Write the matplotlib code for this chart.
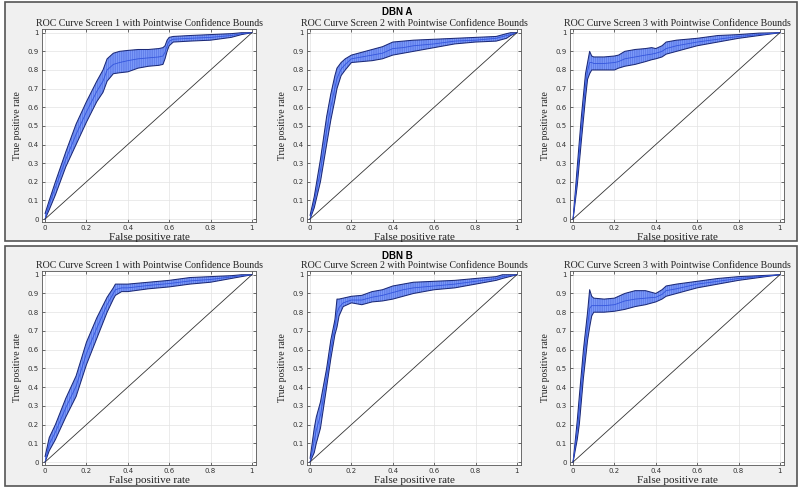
import matplotlib
matplotlib.use("Agg")
import matplotlib.pyplot as plt
from matplotlib.patches import Rectangle

# ---------------- data ----------------
fpr_a1 = [0, 0.02, 0.05, 0.1, 0.15, 0.2, 0.25, 0.28, 0.3, 0.33, 0.36, 0.4, 0.45, 0.5, 0.55, 0.57, 0.58, 0.59, 0.6, 0.62, 0.7, 0.8, 0.9, 0.95, 1.0]
hi_a1 = [0.03, 0.10, 0.20, 0.36, 0.51, 0.63, 0.74, 0.80, 0.86, 0.89, 0.90, 0.905, 0.91, 0.91, 0.915, 0.92, 0.93, 0.96, 0.975, 0.98, 0.985, 0.99, 0.995, 1.0, 1.0]
lo_a1 = [0.0, 0.05, 0.13, 0.28, 0.40, 0.52, 0.63, 0.68, 0.74, 0.78, 0.785, 0.79, 0.81, 0.82, 0.825, 0.83, 0.86, 0.90, 0.93, 0.95, 0.955, 0.96, 0.975, 0.99, 1.0]
tpr_a1 = [0.0, 0.08, 0.17, 0.32, 0.455, 0.575, 0.685, 0.74, 0.80, 0.83, 0.84, 0.85, 0.86, 0.865, 0.87, 0.875, 0.895, 0.93, 0.955, 0.965, 0.97, 0.975, 0.985, 0.995, 1.0]

fpr_a2 = [0, 0.02, 0.05, 0.08, 0.1, 0.12, 0.13, 0.15, 0.17, 0.2, 0.25, 0.3, 0.35, 0.4, 0.45, 0.5, 0.6, 0.7, 0.8, 0.9, 0.95, 0.97, 1.0]
hi_a2 = [0.02, 0.12, 0.32, 0.55, 0.67, 0.77, 0.81, 0.84, 0.86, 0.88, 0.895, 0.91, 0.925, 0.95, 0.955, 0.96, 0.965, 0.97, 0.975, 0.98, 0.995, 1.0, 1.0]
lo_a2 = [0.0, 0.06, 0.20, 0.40, 0.53, 0.64, 0.70, 0.77, 0.80, 0.84, 0.845, 0.85, 0.86, 0.88, 0.89, 0.90, 0.92, 0.94, 0.95, 0.955, 0.97, 0.985, 1.0]
tpr_a2 = [0.0, 0.09, 0.26, 0.475, 0.60, 0.705, 0.755, 0.805, 0.83, 0.86, 0.87, 0.88, 0.89, 0.915, 0.92, 0.93, 0.94, 0.955, 0.96, 0.97, 0.985, 0.99, 1.0]

fpr_a3 = [0, 0.02, 0.04, 0.06, 0.07, 0.08, 0.09, 0.1, 0.15, 0.2, 0.22, 0.25, 0.3, 0.35, 0.38, 0.4, 0.43, 0.45, 0.5, 0.6, 0.7, 0.8, 0.9, 1.0]
hi_a3 = [0.0, 0.28, 0.55, 0.78, 0.84, 0.90, 0.875, 0.87, 0.87, 0.875, 0.88, 0.90, 0.91, 0.915, 0.92, 0.915, 0.93, 0.95, 0.96, 0.97, 0.985, 0.99, 0.998, 1.0]
lo_a3 = [0.0, 0.18, 0.42, 0.65, 0.75, 0.78, 0.80, 0.80, 0.80, 0.80, 0.81, 0.82, 0.83, 0.845, 0.855, 0.86, 0.87, 0.885, 0.90, 0.93, 0.95, 0.97, 0.985, 1.0]
tpr_a3 = [0.0, 0.23, 0.485, 0.715, 0.795, 0.84, 0.84, 0.835, 0.835, 0.84, 0.845, 0.86, 0.87, 0.88, 0.885, 0.89, 0.9, 0.915, 0.93, 0.95, 0.965, 0.98, 0.99, 1.0]

fpr_b1 = [0, 0.02, 0.05, 0.1, 0.15, 0.2, 0.25, 0.3, 0.33, 0.34, 0.37, 0.4, 0.5, 0.6, 0.7, 0.8, 0.9, 0.95, 1.0]
hi_b1 = [0.03, 0.13, 0.20, 0.34, 0.46, 0.64, 0.77, 0.88, 0.93, 0.95, 0.95, 0.95, 0.96, 0.97, 0.985, 0.99, 0.995, 1.0, 1.0]
lo_b1 = [0.0, 0.06, 0.12, 0.24, 0.35, 0.52, 0.66, 0.80, 0.87, 0.89, 0.91, 0.91, 0.925, 0.935, 0.95, 0.96, 0.98, 0.99, 1.0]
tpr_b1 = [0.0, 0.095, 0.16, 0.29, 0.405, 0.58, 0.715, 0.84, 0.90, 0.92, 0.93, 0.93, 0.943, 0.953, 0.967, 0.975, 0.988, 0.995, 1.0]

fpr_b2 = [0, 0.02, 0.03, 0.05, 0.08, 0.1, 0.12, 0.13, 0.14, 0.16, 0.2, 0.25, 0.3, 0.35, 0.4, 0.45, 0.5, 0.6, 0.7, 0.8, 0.9, 0.93, 1.0]
hi_b2 = [0.02, 0.18, 0.24, 0.32, 0.50, 0.65, 0.76, 0.87, 0.87, 0.875, 0.885, 0.89, 0.91, 0.92, 0.94, 0.95, 0.96, 0.965, 0.97, 0.98, 0.99, 1.0, 1.0]
lo_b2 = [0.0, 0.05, 0.10, 0.18, 0.40, 0.55, 0.68, 0.72, 0.78, 0.83, 0.85, 0.84, 0.855, 0.86, 0.87, 0.885, 0.90, 0.92, 0.93, 0.95, 0.97, 0.98, 1.0]
tpr_b2 = [0.0, 0.115, 0.17, 0.25, 0.45, 0.60, 0.72, 0.795, 0.825, 0.85, 0.865, 0.865, 0.88, 0.89, 0.905, 0.92, 0.93, 0.94, 0.95, 0.965, 0.98, 0.99, 1.0]

fpr_b3 = [0, 0.02, 0.03, 0.05, 0.07, 0.08, 0.09, 0.1, 0.15, 0.2, 0.25, 0.3, 0.35, 0.4, 0.43, 0.45, 0.5, 0.6, 0.7, 0.8, 0.9, 1.0]
hi_b3 = [0.0, 0.22, 0.35, 0.60, 0.80, 0.92, 0.885, 0.875, 0.87, 0.875, 0.90, 0.915, 0.915, 0.90, 0.92, 0.94, 0.95, 0.965, 0.98, 0.99, 0.995, 1.0]
lo_b3 = [0.0, 0.12, 0.20, 0.45, 0.65, 0.72, 0.78, 0.80, 0.80, 0.805, 0.815, 0.83, 0.84, 0.855, 0.87, 0.885, 0.90, 0.93, 0.95, 0.97, 0.985, 1.0]
tpr_b3 = [0.0, 0.17, 0.275, 0.525, 0.725, 0.82, 0.835, 0.835, 0.835, 0.84, 0.86, 0.87, 0.875, 0.88, 0.895, 0.915, 0.925, 0.95, 0.965, 0.98, 0.99, 1.0]

panel_titles = ["DBN A", "DBN B"]
screen_titles = ["ROC Curve Screen 1 with Pointwise Confidence Bounds",
                 "ROC Curve Screen 2 with Pointwise Confidence Bounds",
                 "ROC Curve Screen 3 with Pointwise Confidence Bounds"]
x_ticks = [0, 0.2, 0.4, 0.6, 0.8, 1]
x_ticklabels = ["0", "0.2", "0.4", "0.6", "0.8", "1"]
y_ticks = [0, 0.1, 0.2, 0.3, 0.4, 0.5, 0.6, 0.7, 0.8, 0.9, 1]
y_ticklabels = ["0", "0.1", "0.2", "0.3", "0.4", "0.5", "0.6", "0.7", "0.8", "0.9", "1"]
xlabel = "False positive rate"
ylabel = "True positive rate"

curves = [
    [(fpr_a1, tpr_a1, lo_a1, hi_a1), (fpr_a2, tpr_a2, lo_a2, hi_a2), (fpr_a3, tpr_a3, lo_a3, hi_a3)],
    [(fpr_b1, tpr_b1, lo_b1, hi_b1), (fpr_b2, tpr_b2, lo_b2, hi_b2), (fpr_b3, tpr_b3, lo_b3, hi_b3)],
]

# ---------------- figure ----------------
W, H = 800, 492
fig = plt.figure(figsize=(W / 100, H / 100), dpi=100)
fig.patch.set_facecolor("white")
plt.rcParams["hatch.linewidth"] = 0.35

SERIF = ["Liberation Serif", "DejaVu Serif"]

def px_rect(x0, y0, x1, y1):
    return [x0 / W, 1 - y1 / H, (x1 - x0) / W, (y1 - y0) / H]

# panel frames
for (y0, y1) in [(2, 241), (246, 486)]:
    r = px_rect(5, y0, 797, y1)
    fig.patches.append(Rectangle((r[0], r[1]), r[2], r[3], transform=fig.transFigure,
                                 facecolor="#f0f0f0", edgecolor="#555555", linewidth=1.2, zorder=-10))

col_px = [(42, 256), (307, 521), (570, 784)]
row_px = [(29, 222), (271, 465)]
panel_title_y = [12, 256]

for r in range(2):
    fig.text(397 / W, 1 - panel_title_y[r] / H, panel_titles[r], ha="center", va="center",
             fontsize=7, fontweight="bold", family=["Liberation Sans", "DejaVu Sans"], zorder=5)
    for c in range(3):
        x0, x1 = col_px[c]
        y0, y1 = row_px[r]
        ax = fig.add_axes(px_rect(x0, y0, x1, y1))
        fpr, tpr, lo, hi = curves[r][c]
        ax.fill_between(fpr, lo, hi, facecolor="#7b99f8", edgecolor="#4866de",
                        hatch="|" * 9, linewidth=0, zorder=2)
        ax.plot(fpr, hi, color="#1c2a78", lw=0.75, zorder=3)
        ax.plot(fpr, lo, color="#1c2a78", lw=0.75, zorder=3)
        ax.plot(fpr, tpr, color="#3355dd", lw=0.6, zorder=3)
        ax.plot([0, 1], [0, 1], color="#333333", lw=0.6, zorder=3)
        ax.set_xlim(-0.015, 1.02)
        ax.set_ylim(-0.016, 1.02)
        ax.set_xticks(x_ticks)
        ax.set_xticklabels(x_ticklabels)
        ax.set_yticks(y_ticks)
        ax.set_yticklabels(y_ticklabels)
        ax.tick_params(direction="in", length=2, width=0.5, labelsize=5, colors="#333333",
                       top=True, right=True, pad=2.5)
        ax.grid(True, color="#e3e3e3", lw=0.5, zorder=0)
        ax.set_axisbelow(True)
        for s in ax.spines.values():
            s.set_color("#555555")
            s.set_linewidth(0.6)
        ax.set_facecolor("white")
        ax.set_title(screen_titles[c], fontsize=7.1, family=SERIF, pad=2, color="#222222")
        ax.set_xlabel(xlabel, fontsize=8, family=SERIF, labelpad=1, color="#222222")
        ax.set_ylabel(ylabel, fontsize=7, family=SERIF, labelpad=4, color="#222222")

fig.savefig("out.png", dpi=100, facecolor="white")
